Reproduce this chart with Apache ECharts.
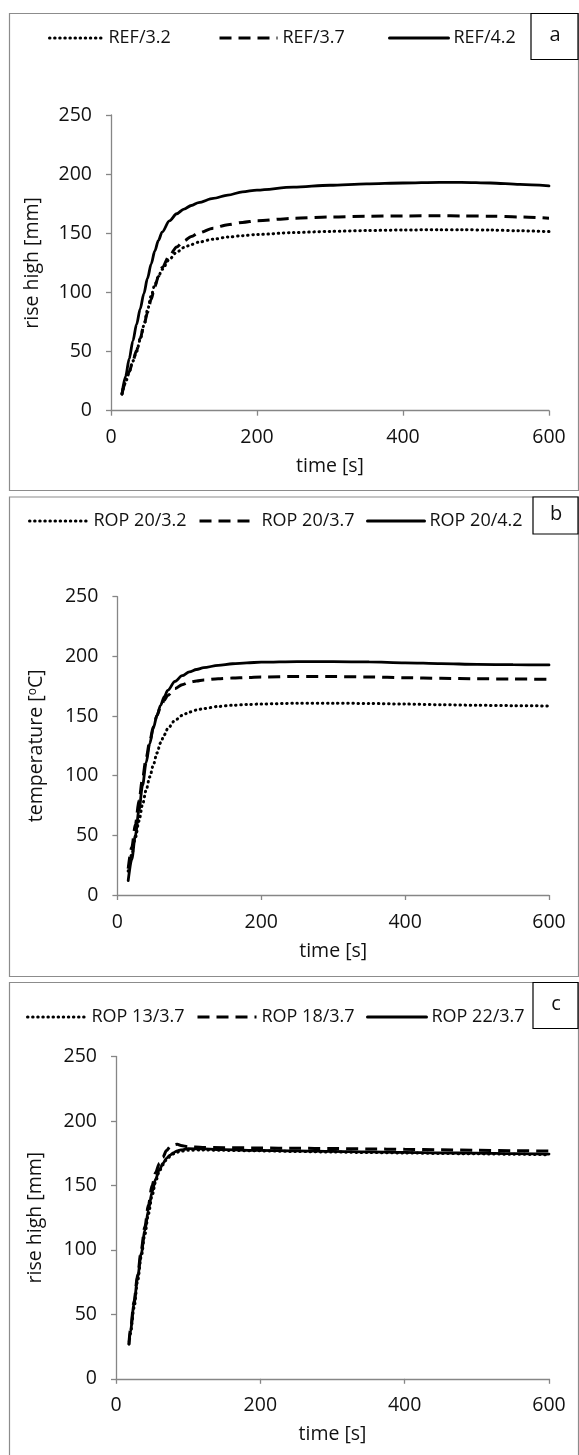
<!DOCTYPE html>
<html>
<head>
<meta charset="utf-8">
<script src="https://cdn.jsdelivr.net/npm/echarts@6/dist/echarts.min.js"></script>
<style>
html,body{margin:0;padding:0;background:#fff;}
#c{width:579px;height:1455px;}
</style>
</head>
<body>
<div id="c"></div>
<script>
// ---------- DATA ----------
const xTicks = [0, 200, 400, 600];
const yTicks = [0, 50, 100, 150, 200, 250];

// Panel a: rise high [mm]
const timeA = [15, 20, 25, 30, 35, 40, 45, 50, 55, 60, 65, 70, 80, 90, 100, 110, 120, 140, 160, 180, 200, 250, 300, 350, 400, 450, 480, 520, 560, 600];
const ref32 = [14, 24, 33, 42, 50, 60, 72, 85, 97, 106.5, 113.5, 119.5, 128, 134, 138, 140.5, 142.5, 145, 146.8, 148, 149, 150.6, 151.6, 152.3, 152.8, 153, 153, 152.7, 152.1, 151.4];
const ref37 = [14, 24, 33, 42, 51, 61, 72, 83, 94, 105, 113.5, 121, 131, 138.5, 143.5, 147.3, 150.3, 154.3, 157.3, 159.2, 160.6, 162.7, 163.8, 164.4, 164.7, 164.8, 164.7, 164.4, 163.8, 162.8];
const ref42 = [14, 29, 44, 59, 73, 86, 99, 112, 124, 135, 144, 151, 160.5, 166.5, 170.5, 173.5, 176, 179.5, 182.3, 185, 186.5, 189, 190.6, 191.8, 192.5, 193, 193, 192.5, 191.3, 190];

// Panel b: temperature [oC]
const timeB = [15, 20, 25, 30, 35, 40, 45, 50, 55, 60, 65, 70, 80, 90, 100, 110, 120, 140, 160, 180, 200, 250, 300, 350, 400, 450, 500, 550, 600];
const rop20_32 = [20, 34, 48, 62, 76, 88, 99, 109, 119, 127.5, 134, 139.5, 146.3, 150.5, 153.3, 155, 156.3, 158, 159, 159.6, 160.1, 160.7, 160.8, 160.5, 160, 159.5, 159, 158.7, 158.4];
const rop20_37 = [22, 40, 59, 79, 98, 115, 129, 141, 150.5, 157.5, 163, 167.3, 173, 176.3, 178.3, 179.4, 180.2, 181.2, 181.8, 182.3, 182.7, 183.2, 183.1, 182.7, 182.1, 181.6, 181.2, 181, 180.7];
const rop20_42 = [12, 30, 50, 71, 92, 111, 127, 140, 150.5, 159, 166, 171.5, 179, 183.8, 187, 189, 190.5, 192.5, 193.8, 194.6, 195.1, 195.6, 195.6, 195.3, 194.6, 193.9, 193.3, 193, 192.8];

// Panel c: rise high [mm]
const timeC = [18, 20, 25, 30, 35, 40, 45, 50, 55, 60, 65, 70, 75, 80, 85, 90, 100, 120, 150, 200, 250, 300, 350, 400, 450, 500, 550, 600];
const rop13_37 = [27, 35, 55, 76, 95, 112, 128, 142, 153, 161, 166, 170, 172.5, 174.5, 175.8, 176.5, 177.3, 177.5, 177.2, 176.8, 176.3, 175.9, 175.5, 175.2, 174.8, 174.5, 174.2, 173.8];
const rop18_37 = [28, 38, 60, 81, 100, 118, 135, 150, 160, 167, 172, 177, 180, 181.5, 182, 181, 180, 179.5, 179.3, 179, 178.8, 178.6, 178.3, 178, 177.6, 177.2, 176.9, 176.6];
const rop22_37 = [27, 37, 58, 79, 97, 115, 131, 145, 155, 162, 167, 171, 173.5, 175.5, 176.8, 177.5, 178.5, 178.3, 177.7, 177.2, 176.8, 176.4, 176, 175.7, 175.3, 175, 174.6, 174.3];

const panels = [
  {names: ['REF/3.2', 'REF/3.7', 'REF/4.2'], time: timeA, vals: [ref32, ref37, ref42], yName: 'rise high [mm]', tag: 'a'},
  {names: ['ROP 20/3.2', 'ROP 20/3.7', 'ROP 20/4.2'], time: timeB, vals: [rop20_32, rop20_37, rop20_42], yName: '{n|temperature [}{s|o}{n|C]}', tag: 'b'},
  {names: ['ROP 13/3.7', 'ROP 18/3.7', 'ROP 22/3.7'], time: timeC, vals: [rop13_37, rop18_37, rop22_37], yName: 'rise high [mm]', tag: 'c'}
];

// ---------- LAYOUT ----------
const FONT = 'Open Sans';
const TXT = '#111';
const AX = '#868686';
const FS = 19.5;
const layout = [
  {grid: {left: 111, top: 115, width: 438, height: 295.7}, nameGapY: 69, frame: [9, 13, 569, 477], box: [530.5, 13, 47, 46], legTop: 29,
   leg: [[48, 54], [218, 58], [388, 59]]},
  {grid: {left: 117.4, top: 596.7, width: 431.6, height: 298.3}, nameGapY: 70, frame: [9, 496.5, 569, 479.5], box: [532.5, 496.5, 45, 37], legTop: 512,
   leg: [[28, 59], [198, 57], [366, 57]]},
  {grid: {left: 116, top: 1056.5, width: 433, height: 322.3}, nameGapY: 71, frame: [9, 982, 569, 490], box: [532.5, 982, 45, 46], legTop: 1008,
   leg: [[26, 59], [196, 59], [366, 59]]}
];

const styles = [
  {type: [0.5, 4.6], cap: 'round', width: 3},
  {type: [12, 7], cap: 'butt', width: 3},
  {type: 'solid', cap: 'round', width: 2.8}
];

const grids = [], xAxes = [], yAxes = [], series = [], legends = [], graphics = [];

panels.forEach((p, pi) => {
  const L = layout[pi];
  grids.push(Object.assign({containLabel: false, outerBoundsMode: 'none'}, L.grid));
  xAxes.push({
    type: 'value', gridIndex: pi, min: 0, max: 600, interval: 200,
    name: 'time [s]', nameLocation: 'middle', nameGap: 46,
    nameTextStyle: {fontFamily: FONT, fontSize: FS, color: TXT},
    axisLine: {show: true, onZero: false, lineStyle: {color: AX, width: 1.3}},
    axisTick: {show: true, inside: false, length: 5, lineStyle: {color: AX, width: 1.3}},
    axisLabel: {fontFamily: FONT, fontSize: FS, color: TXT, margin: 17,
      formatter: v => xTicks.indexOf(v) >= 0 ? String(v) : ''},
    splitLine: {show: false}
  });
  yAxes.push({
    type: 'value', gridIndex: pi, min: 0, max: 250, interval: 50,
    name: p.yName, nameLocation: 'middle', nameGap: L.nameGapY, nameRotate: 90,
    nameTextStyle: {fontFamily: FONT, fontSize: FS, color: TXT,
      rich: {n: {fontFamily: FONT, fontSize: FS, color: TXT}, s: {fontFamily: FONT, fontSize: 12, color: TXT, padding: [0, 0, 9, 0]}}},
    axisLine: {show: true, lineStyle: {color: AX, width: 1.3}},
    axisTick: {show: true, inside: false, length: 5, lineStyle: {color: AX, width: 1.3}},
    axisLabel: {fontFamily: FONT, fontSize: FS, color: TXT, margin: 19,
      formatter: v => yTicks.indexOf(v) >= 0 ? String(v) : ''},
    splitLine: {show: false}
  });
  p.names.forEach((nm, si) => {
    series.push({
      name: nm, type: 'line', xAxisIndex: pi, yAxisIndex: pi,
      data: p.time.map((t, i) => [t, p.vals[si][i]]),
      smooth: 0.3, smoothMonotone: 'x', symbol: 'none', showSymbol: false,
      lineStyle: Object.assign({color: '#000'}, styles[si]),
      itemStyle: {color: '#000'},
      z: 3 - si, animation: false
    });
    const lg = L.leg[si];
    legends.push({
      data: [nm], left: lg[0], top: L.legTop, padding: 0, itemGap: 0,
      itemWidth: lg[1], itemHeight: 14, selectedMode: false,
      lineStyle: {width: 3},
      itemStyle: {opacity: 0, borderWidth: 0},
      textStyle: {fontFamily: FONT, fontSize: 18, color: TXT}
    });
  });
  graphics.push({type: 'rect', shape: {x: L.frame[0] + 0.5, y: L.frame[1] + 0.5, width: L.frame[2], height: L.frame[3]},
    style: {fill: null, stroke: '#8c8c8c', lineWidth: 1.2}, z: -1});
  graphics.push({type: 'rect', shape: {x: L.box[0] + 0.5, y: L.box[1] + 0.5, width: L.box[2], height: L.box[3]},
    style: {fill: '#fff', stroke: '#000', lineWidth: 1.2}, z: 10});
  graphics.push({type: 'text', x: L.box[0] + L.box[2] / 2 + 1, y: L.box[1] + L.box[3] / 2 - 1,
    style: {text: p.tag, font: '20px "Open Sans"', fill: TXT, align: 'center', verticalAlign: 'middle'}, z: 11});
});

const chart = echarts.init(document.getElementById('c'), null, {renderer: 'canvas'});
chart.setOption({
  animation: false,
  backgroundColor: '#fff',
  grid: grids, xAxis: xAxes, yAxis: yAxes, series: series, legend: legends,
  graphic: {elements: graphics}
});
</script>
</body>
</html>
